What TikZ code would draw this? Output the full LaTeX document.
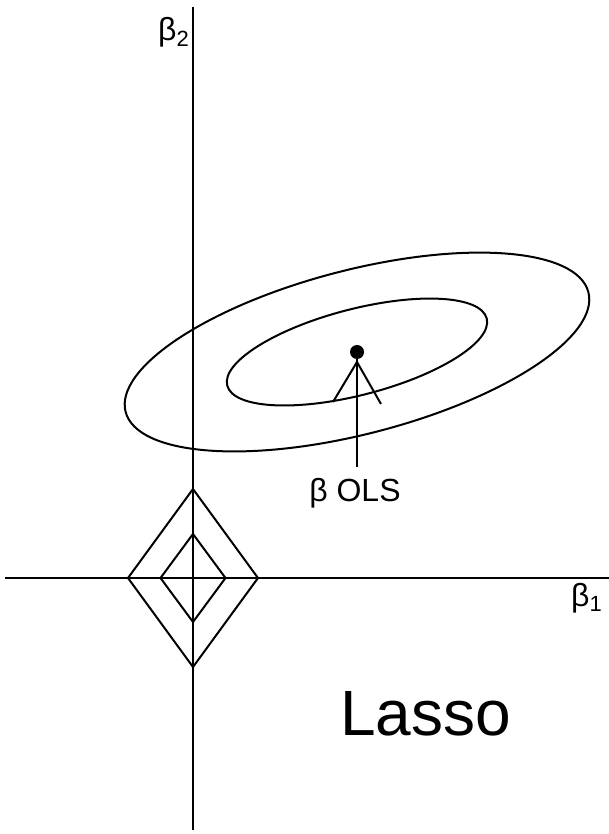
\documentclass[tikz,border=0pt]{standalone}
\usepackage{fontspec}
\setmainfont{Liberation Sans}
\usetikzlibrary{calc}
\tikzset{
  axisline/.style={line width=2pt, draw=black},
  contour/.style={line width=2pt, draw=black},
  diamondline/.style={line width=2pt, draw=black, line join=miter},
  lbl/.style={inner sep=0pt, font=\fontsize{32}{32}\selectfont},
  bigl/.style={inner sep=0pt, font=\fontsize{64}{64}\selectfont},
}
\newcommand{\sub}[1]{\raisebox{-6pt}{\fontsize{22}{22}\selectfont #1}}

\begin{document}
\begin{tikzpicture}[x=1pt, y=1pt]
    \useasboundingbox (-193,-256) rectangle (416,578);
    % axes
    \coordinate (o) at (0,0);
    \coordinate (xl) at (-188,0);
    \coordinate (xr) at (416,0);
    \coordinate (yb) at (0,-252);
    \coordinate (yt) at (0,571);
    \draw[axisline] (xl) -- (xr);
    \draw[axisline] (yb) -- (yt);
    \node[lbl, anchor=base west] (b1) at (378,-28) {β\sub{1}};
    \node[lbl, anchor=base east] (b2) at (-4,537) {β\sub{2}};
    % lasso constraint regions
    \draw[diamondline] (65,0) -- (0,89) -- (-65,0) -- (0,-89) -- cycle;
    \draw[diamondline] (32.5,0) -- (0,44) -- (-32.5,0) -- (0,-44) -- cycle;
    % RSS contours around the OLS estimate
    \coordinate (ols) at (164,226);
    \draw[contour, rotate around={14.5:(ols)}] (ols) ellipse [x radius=239, y radius=82];
    \draw[contour, rotate around={14.5:(ols)}] (ols) ellipse [x radius=134, y radius=43];
    \fill (ols) circle [radius=7];
    \coordinate (apex) at (164,216);
    \coordinate (fl) at (140,176);
    \coordinate (fr) at (188,174);
    \node[lbl, anchor=base] (olslbl) at (162,76) {β OLS};
    \draw[contour] (fl) -- (apex) -- (fr);
    \draw[contour] (ols) -- (ols |- {$(olslbl.north)+(0,12)$});
    \node[bigl, anchor=base west] (lasso) at (147,-157) {Lasso};
\end{tikzpicture}
\end{document}
